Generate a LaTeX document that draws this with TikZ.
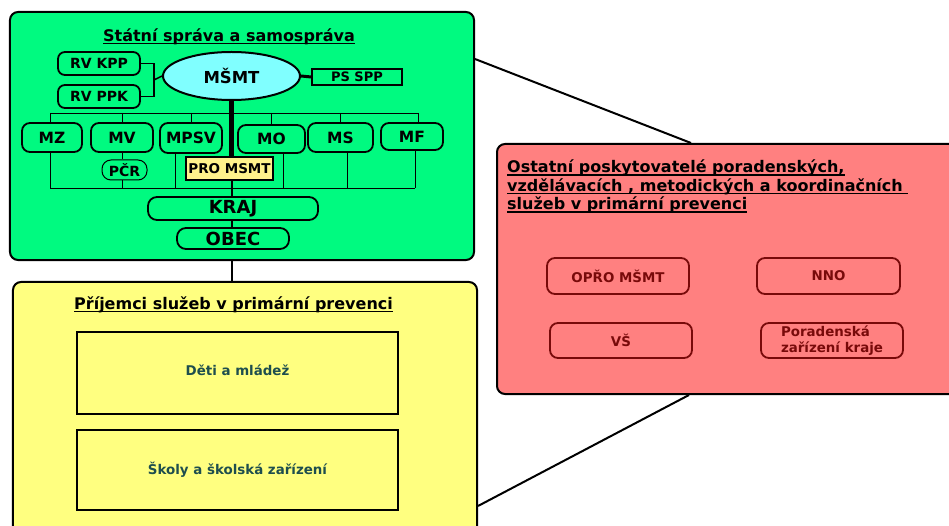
\documentclass[tikz,border=0pt]{standalone}
\usepackage{fontspec}
\setmainfont{DejaVu Sans}
\usetikzlibrary{shapes.geometric,calc}
\definecolor{grn}{RGB}{0,250,128}
\definecolor{ylw}{RGB}{255,255,128}
\definecolor{redf}{RGB}{255,128,128}
\definecolor{cyanf}{RGB}{128,255,255}
\definecolor{prof}{RGB}{255,242,140}
\definecolor{dred}{RGB}{120,10,10}
\definecolor{tealt}{RGB}{30,78,78}
\newcommand{\myfs}[2]{\fontsize{#1bp}{#2bp}\selectfont}
\newsavebox{\myulbox}
\newcommand{\myul}[1]{\sbox{\myulbox}{#1}\rlap{\rule[-2.8bp]{\wd\myulbox}{1.3bp}}\usebox{\myulbox}}
\tikzset{
  big/.style={draw=black, line width=2bp, rounded corners=8bp, inner sep=0pt},
  gtitle/.style={font=\bfseries\myfs{16}{18.5}, inner sep=0pt},
  rvbox/.style={draw=black, line width=1.8bp, rounded corners=7bp, fill=grn, inner sep=0pt, font=\bfseries\myfs{14}{16}},
  minbox/.style={draw=black, line width=1.8bp, rounded corners=8bp, fill=grn, inner sep=0pt, font=\bfseries\myfs{15.5}{18}},
  pcrbox/.style={draw=black, line width=1bp, rounded corners=9bp, fill=grn, inner sep=0pt, font=\bfseries\myfs{14}{16}},
  probox/.style={draw=black, line width=1.6bp, fill=prof, inner sep=0pt, font=\bfseries\myfs{13.5}{16}},
  psbox/.style={draw=black, line width=1.6bp, fill=grn, inner sep=0pt, font=\bfseries\myfs{13}{15}},
  lvlbox/.style={draw=black, line width=1.8bp, rounded corners=9bp, fill=grn, inner sep=0pt, font=\bfseries\myfs{18}{20}},
  ybox/.style={draw=black, line width=2bp, inner sep=0pt, text=tealt, font=\bfseries\myfs{13.4}{16}},
  rbox/.style={draw=dred, line width=1.8bp, rounded corners=8bp, inner sep=0pt, text=dred, font=\bfseries\myfs{13.4}{16}},
  bus/.style={draw=black, line width=0.9bp},
  conn/.style={draw=black, line width=2bp},
}
\begin{document}
\begin{tikzpicture}[x=1bp,y=-1bp]
\useasboundingbox (0,0) rectangle (949,526);
\clip (0,0) rectangle (949,526);
% big panels
\node[big, fill=grn, minimum width=464bp, minimum height=248bp] (green) at (242,136) {};
\node[big, fill=ylw, minimum width=464bp, minimum height=254bp] (yellow) at (245,409) {};
\node[big, fill=redf, minimum width=463bp, minimum height=250bp] (red) at (728.5,269) {};
% connectors between panels
\draw[conn] ($(green.north east)+(0,48)$) -- ($(red.north west)+(195,0)$);
\draw[conn] ($(yellow.north east)+(0,225)$) -- ($(red.south west)+(193,0)$);
% green panel
\node[gtitle] (gt) at (229,36.5) {\myul{Státní správa a samospráva}};
\node[rvbox, minimum width=82bp, minimum height=23bp] (rvkpp) at (99,63.5) {RV KPP};
\node[rvbox, minimum width=82bp, minimum height=23bp] (rvppk) at (99,96.5) {RV PPK};
\node[ellipse, draw=black, line width=2bp, fill=cyanf, minimum width=137bp, minimum height=48bp, inner sep=0pt, font=\bfseries\myfs{16.5}{18}] (msmt) at (231.5,76) {MŠMT};
\node[psbox, minimum width=90bp, minimum height=16bp] (psspp) at (357,77) {PS SPP};
\draw[line width=3bp] (msmt.east) -- (psspp.west);
\draw[line width=1.5bp] (rvkpp.east) -- ++(13,0) |- (rvppk.east);
\coordinate (brm) at ($(rvkpp.east)!0.5!(rvppk.east)+(13,0)$);
\draw[line width=1.5bp] (brm) -- (msmt.west);
% ministries
\node[minbox, minimum width=60bp, minimum height=29bp] (mz) at (52,137.5) {MZ};
\node[minbox, minimum width=62bp, minimum height=29bp] (mv) at (122,137.5) {MV};
\node[minbox, minimum width=62bp, minimum height=30bp] (mpsv) at (191,138) {MPSV};
\node[minbox, minimum width=67bp, minimum height=28bp] (mo) at (271.5,139) {MO};
\node[minbox, minimum width=65bp, minimum height=29bp] (ms) at (340.5,137.5) {MS};
\node[minbox, minimum width=62bp, minimum height=27bp] (mf) at (412,136.5) {MF};
\node[pcrbox, minimum width=45bp, minimum height=20bp] (pcr) at (124.5,170) {PČR};
\node[probox, minimum width=87bp, minimum height=23bp] (pro) at (229.5,168.5) {PRO MSMT};
\node[lvlbox, minimum width=170bp, minimum height=23bp] (kraj) at (233,208.5) {KRAJ};
\node[lvlbox, minimum width=112bp, minimum height=21bp] (obec) at (233,238.5) {OBEC};
% buses
\coordinate (btl) at (50,113); \coordinate (btr) at (418,113);
\coordinate (bbl) at (50,188); \coordinate (bbr) at (415,188);
\draw[bus] (btl) -- (btr);
\draw[bus] (btl) -- (btl |- mz.north);
\draw[bus] (mv.north |- btl) -- (mv.north);
\draw[bus] (mpsv.north |- btl) -- (mpsv.north);
\draw[bus] (mo.north |- btl) -- (mo.north);
\draw[bus] (ms.north |- btl) -- (ms.north);
\draw[bus] (btr) -- (btr |- mf.north);
\draw[bus] (bbl) -- (bbr);
\draw[bus] (bbl |- mz.south) -- (bbl);
\draw[bus] (mv.south) -- (mv.south |- pcr.north);
\draw[bus] (mv.south |- pcr.south) -- (mv.south |- bbl);
\coordinate (mpsvb) at ($(mpsv.south)+(-16,0)$);
\draw[bus] (mpsvb) -- (mpsvb |- bbl);
\coordinate (mob) at ($(mo.south)+(11.5,0)$);
\draw[bus] (mob) -- (mob |- bbl);
\coordinate (msb) at ($(ms.south)+(6.5,0)$);
\draw[bus] (msb) -- (msb |- bbl);
\draw[bus] (bbr |- mf.south) -- (bbr);
% vertical spine
\draw[line width=5bp] (msmt.south) -- (msmt.south |- pro.north);
\draw[line width=2bp] (msmt.south |- pro.south) -- (msmt.south |- kraj.north);
\draw[line width=2bp] (msmt.south |- kraj.south) -- (msmt.south |- obec.north);
\draw[line width=2bp] (msmt.south |- green.south) -- (msmt.south |- yellow.north);
% yellow panel
\node[gtitle] (yt) at (233.5,304.5) {\myul{Příjemci služeb v primární prevenci}};
\node[ybox, minimum width=321bp, minimum height=82bp] (deti) at (237.5,373) {\raisebox{5bp}{Děti a mládež}};
\node[ybox, minimum width=321bp, minimum height=80bp] (skoly) at (237.5,470) {Školy a školská zařízení};
% red panel
\node[gtitle, anchor=north west, align=left] (rt) at (507,160) {\myul{Ostatní poskytovatelé poradenských,}\\\myul{vzdělávacích , metodických a koordinačních\ }\\\myul{služeb v primární prevenci}};
\node[rbox, minimum width=142bp, minimum height=36bp] (opro) at (618,276) {OPŘO MŠMT};
\node[rbox, minimum width=143bp, minimum height=36bp] (nno) at (828.5,276) {NNO};
\node[rbox, minimum width=142bp, minimum height=35bp] (vs) at (621,340.5) {VŠ};
\node[rbox, minimum width=142bp, minimum height=35bp, align=left] (porad) at (832,340.5) {Poradenská\\zařízení kraje};
\end{tikzpicture}
\end{document}
